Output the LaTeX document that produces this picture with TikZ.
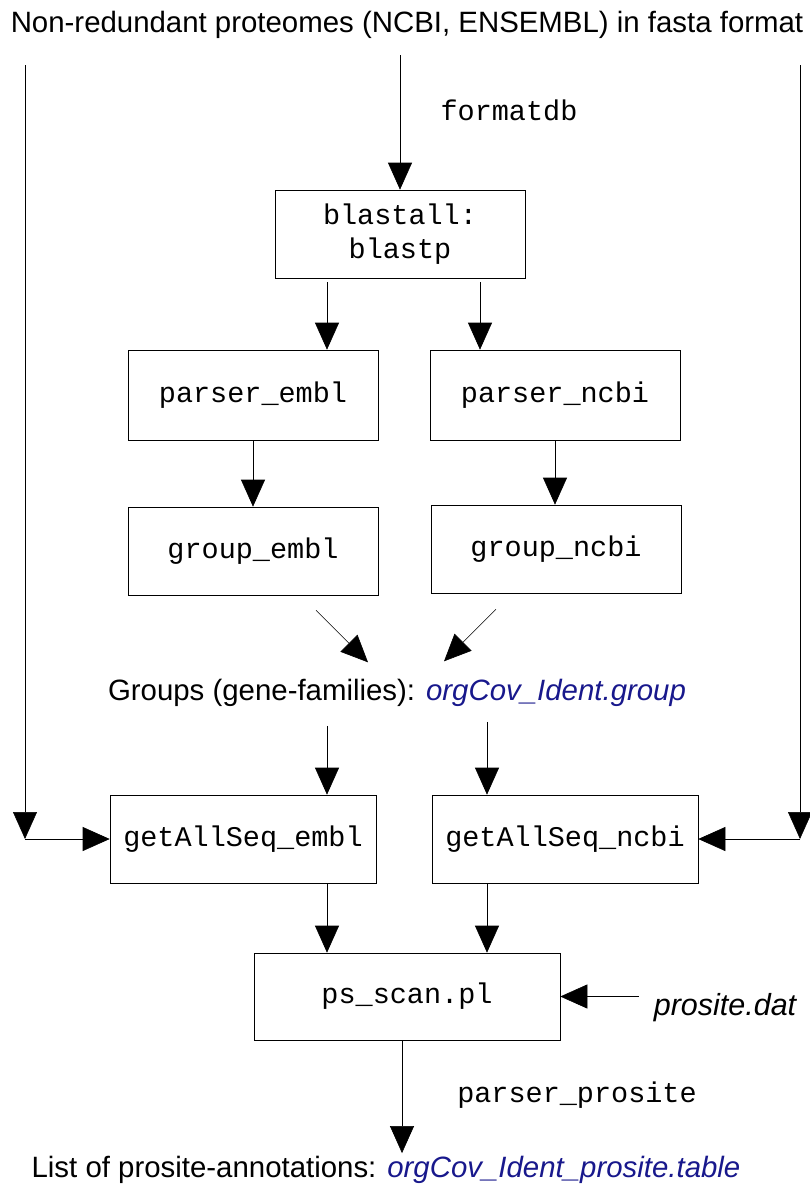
\documentclass[tikz,border=0pt]{standalone}
\usepackage{fontspec}
\setmainfont{Liberation Sans}
\setmonofont{Liberation Mono}
\usetikzlibrary{arrows.meta}

\definecolor{filename}{RGB}{24,24,140}
\tikzset{
  procbox/.style={draw,line width=.6pt,inner sep=0pt,minimum width=250pt,minimum height=88pt,
    font=\fontsize{28.5}{34}\ttfamily,align=center},
  flow/.style={line width=.6pt,-{Triangle[width=24pt,length=27pt]}},
  plain/.style={inner sep=3pt,font=\fontsize{29.4}{35}\selectfont},
  cmd/.style={inner sep=3pt,font=\fontsize{28.5}{34}\ttfamily},
}

\begin{document}
\begin{tikzpicture}[x=1pt,y=-1pt]
\path[use as bounding box] (0,0) rectangle (810,1189);
\node[plain] (title) at (407,25) {Non-redundant proteomes (NCBI, ENSEMBL) in fasta format};
\coordinate (dbtop) at (400,55);
\coordinate (lefttop) at (25,65);
\coordinate (leftbot) at (25,839);
\coordinate (righttop) at (800,65);
\coordinate (rightbot) at (800,839);

\node[procbox] (blast) at (400,234) {blastall:\\blastp};
\node[cmd] (formatdb) at (509,110) {formatdb};
\node[procbox,minimum height=90pt] (pembl) at (253,395) {parser\_embl};
\node[procbox,minimum height=90pt] (pncbi) at (555,395) {parser\_ncbi};
\node[procbox] (gembl) at (253,551) {group\_embl};
\node[procbox] (gncbi) at (556,549) {group\_ncbi};
\node[plain] (groups) at (397,693) {Groups (gene-families): \textcolor{filename}{\itshape orgCov\_Ident.group}};
\node[procbox,minimum width=266pt] (sembl) at (243,839) {getAllSeq\_embl};
\node[procbox,minimum width=266pt] (sncbi) at (565,839) {getAllSeq\_ncbi};
\node[procbox,minimum width=306pt,minimum height=87pt] (scan) at (407,996.5) {ps\_scan.pl};
\node[plain,font=\fontsize{30.5}{35}\itshape] (dat) at (725,1008) {prosite.dat};
\node[cmd] (pprosite) at (577,1095) {parser\_prosite};
\node[plain] (result) at (386,1170) {List of prosite-annotations: \textcolor{filename}{\itshape orgCov\_Ident\_prosite.table}};

% blast and parsing
\draw[flow] (dbtop) -- (blast.north);
\draw[flow,shorten <=4pt] ([xshift=74pt]pembl.north |- blast.south) -- ([xshift=74pt]pembl.north);
\draw[flow,shorten <=4pt] ([xshift=-75pt]pncbi.north |- blast.south) -- ([xshift=-75pt]pncbi.north);
\draw[flow] (pembl.south) -- (pembl.south |- gembl.north);
\draw[flow] (pncbi.south) -- (pncbi.south |- gncbi.north);
\draw[flow] ([xshift=63pt,yshift=-15pt]gembl.south) -- ++(52,52);
\draw[flow] ([xshift=-60pt,yshift=-16pt]gncbi.south) -- ++(-52,52);

% sequences per group
\draw[flow,shorten <=16pt] ([xshift=84pt]sembl.north |- groups.south) -- ([xshift=84pt]sembl.north);
\draw[flow,shorten <=12pt] ([xshift=-78pt]sncbi.north |- groups.south) -- ([xshift=-78pt]sncbi.north);
\draw[flow] (lefttop) -- (leftbot);
\draw[flow] (leftbot) -- (sembl.west);
\draw[flow] (righttop) -- (rightbot);
\draw[flow] (rightbot) -- (sncbi.east);

% prosite scan
\draw[flow] ([xshift=-80pt]scan.north |- sembl.south) -- ([xshift=-80pt]scan.north);
\draw[flow] ([xshift=80pt]scan.north |- sncbi.south) -- ([xshift=80pt]scan.north);
\draw[flow,shorten <=12pt] (dat.west |- scan.east) -- (scan.east);
\draw[flow] ([xshift=-5pt]scan.south) -- ([xshift=-5pt]scan.south |- result.north);
\end{tikzpicture}
\end{document}
